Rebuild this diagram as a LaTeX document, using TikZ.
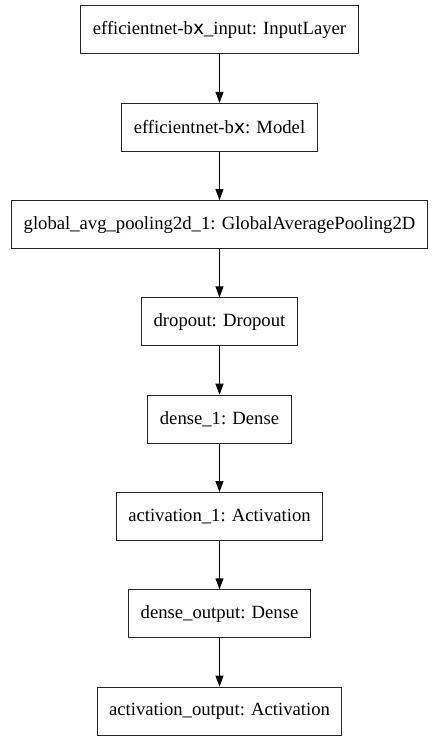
\documentclass[tikz,border=0pt]{standalone}
\usepackage{fontspec}
\setmainfont{Liberation Serif}
\newfontfamily\layerfont{Liberation Serif}
\newfontfamily\sansx{DejaVu Sans}
\usetikzlibrary{positioning,arrows.meta}

\begin{document}
\begin{tikzpicture}[x=1pt, y=1pt,
		layer/.style={draw=black!85, line width=1pt, fill=white, minimum height=48pt, inner xsep=12pt, font=\layerfont\fontsize{18.67}{22}\selectfont},
		flow/.style={-{Triangle[length=11pt, width=8pt]}, line width=1pt},
		node distance=48.3pt]
			\useasboundingbox (0,0) rectangle (439,-741);
			
			\node[layer] (input) at (219.5,-30) {efficientnet-b{\sansx x}\_input: InputLayer};
			\node[layer, below=of input] (model) {efficientnet-b{\sansx x}: Model};
			\node[layer, below=of model] (gap) {global\_avg\_pooling2d\_1: GlobalAveragePooling2D};
			\node[layer, below=of gap] (drop) {dropout: Dropout};
			\node[layer, below=of drop] (dense1) {dense\_1: Dense};
			\node[layer, below=of dense1] (act1) {activation\_1: Activation};
			\node[layer, below=of act1] (denseout) {dense\_output: Dense};
			\node[layer, below=of denseout] (actout) {activation\_output: Activation};
			
			\draw[flow] (input) -- (model);
			\draw[flow] (model) -- (gap);
			\draw[flow] (gap) -- (drop);
			\draw[flow] (drop) -- (dense1);
			\draw[flow] (dense1) -- (act1);
			\draw[flow] (act1) -- (denseout);
			\draw[flow] (denseout) -- (actout);
		\end{tikzpicture}
\end{document}
